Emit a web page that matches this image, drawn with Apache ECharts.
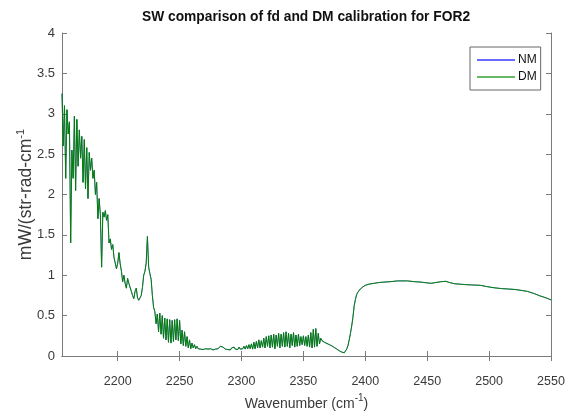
<!DOCTYPE html>
<html>
<head>
<meta charset="utf-8">
<script src="https://cdn.jsdelivr.net/npm/echarts@6/dist/echarts.min.js"></script>
<style>
html,body{margin:0;padding:0;background:#fff;}
#chart{width:581px;height:416px;}
</style>
</head>
<body>
<div id="chart"></div>
<script>
// Noisy part: sampled every 1 cm^-1 starting at 2155
const noisyStart = 2155;
const noisyStep = 1;
const dmNoisy = [
  3.25, 2.6, 3.1, 2.2, 3.05, 2.75, 2.9, 1.4, 2.55, 2.2,
  2.97, 2.05, 2.93, 2.35, 2.8, 2.45, 2.72, 2.15, 2.68, 2.07,
  2.58, 1.95, 2.52, 2.3, 2.45, 2.2, 2.3, 2.0, 2.15, 1.7,
  1.95, 1.75, 1.1, 1.78, 1.72, 1.8, 1.68, 1.75, 1.4, 1.45,
  1.32, 1.38, 1.22, 1.2, 1.08, 1.15,
  1.28, 1.14, 1.05, 0.92, 1.0, 0.9, 0.84, 0.96, 0.9, 0.88,
  0.8, 0.75, 0.71, 0.8, 0.84, 0.72, 0.69, 0.72, 0.75, 0.85,
  1.0, 1.05, 1.15, 1.48, 1.1, 1.02, 0.95, 0.75, 0.6, 0.55,
  0.4, 0.52, 0.3, 0.53, 0.27, 0.5, 0.22, 0.47, 0.2, 0.46,
  0.17, 0.45, 0.16, 0.44, 0.18, 0.45, 0.2, 0.46, 0.19, 0.44,
  0.15, 0.32, 0.13, 0.3, 0.12, 0.24, 0.1, 0.2, 0.09, 0.16,
  0.1, 0.14, 0.09, 0.12, 0.09, 0.1, 0.085, 0.09, 0.08,
  0.085, 0.09, 0.08, 0.085, 0.08, 0.09, 0.08, 0.075, 0.08, 0.085,
  0.08, 0.09, 0.1, 0.12, 0.13, 0.11, 0.09, 0.085, 0.1, 0.08,
  0.095, 0.075, 0.1, 0.08, 0.11, 0.085, 0.1, 0.08, 0.11, 0.085,
  0.1, 0.09, 0.12, 0.085, 0.13, 0.09, 0.14, 0.09, 0.15, 0.085,
  0.17, 0.09, 0.18, 0.1, 0.2, 0.1, 0.19, 0.11, 0.22, 0.1,
  0.24, 0.12, 0.25, 0.1, 0.26, 0.11, 0.27, 0.09, 0.26, 0.12,
  0.28, 0.1, 0.27, 0.12, 0.29, 0.11, 0.3, 0.12, 0.28, 0.1,
  0.27, 0.13, 0.29, 0.11, 0.26, 0.12, 0.27, 0.13, 0.24, 0.14,
  0.25, 0.13, 0.24, 0.12, 0.26, 0.11, 0.29, 0.1, 0.33, 0.11,
  0.34, 0.12, 0.28, 0.15, 0.22, 0.19, 0.18, 0.17, 0.16, 0.155,
  0.15, 0.14, 0.13, 0.125, 0.115, 0.105, 0.095, 0.085, 0.075, 0.065,
  0.055
];
// Smooth part
const smoothWn = [2381, 2382, 2383, 2384, 2385, 2386, 2387, 2388, 2389, 2390,
  2391, 2392, 2393, 2394, 2396, 2398, 2400, 2403, 2407, 2411,
  2415, 2420, 2426, 2434, 2440, 2445, 2450, 2453, 2457, 2461,
  2465, 2468, 2472, 2476, 2480, 2486, 2493, 2498, 2504, 2510,
  2515, 2520, 2525, 2531, 2536, 2541, 2546, 2550];
const dmSmooth = [0.048, 0.042, 0.04, 0.055, 0.085, 0.13, 0.2, 0.28, 0.37, 0.48,
  0.62, 0.7, 0.76, 0.79, 0.83, 0.855, 0.875, 0.89, 0.9, 0.91,
  0.915, 0.92, 0.93, 0.93, 0.92, 0.915, 0.905, 0.9, 0.91, 0.92,
  0.925, 0.91, 0.895, 0.89, 0.885, 0.88, 0.875, 0.86, 0.845, 0.835,
  0.83, 0.825, 0.815, 0.8, 0.775, 0.745, 0.72, 0.695];
// NM calibration lies under DM (identical at this scale)
const nmNoisy = dmNoisy;
const nmSmooth = dmSmooth;

const xTicks = [2200, 2250, 2300, 2350, 2400, 2450, 2500, 2550];
const yTicks = [0, 0.5, 1, 1.5, 2, 2.5, 3, 3.5, 4];
const xMin = 2155, xMax = 2550, yMin = 0, yMax = 4;

function buildPairs(noisy, smooth) {
  const out = [];
  noisy.forEach((v, i) => out.push([noisyStart + i * noisyStep, v]));
  smooth.forEach((v, i) => out.push([smoothWn[i], v]));
  return out;
}

const FONT = '"Liberation Sans", Arial, Helvetica, sans-serif';
const AXC = '#7a7a7a';
const LBL = '#3a3a3a';

const chart = echarts.init(document.getElementById('chart'), null, {renderer: 'canvas'});
chart.setOption({
  animation: false,
  backgroundColor: '#ffffff',
  grid: {left: 62, right: 30, top: 33, bottom: 54, containLabel: false},
  graphic: [{
    type: 'text', x: 306, y: 17, scaleX: 0.92, scaleY: 1,
    style: {text: 'SW comparison of fd and DM calibration for FOR2', font: 'bold 15px ' + FONT,
      fill: '#111', textAlign: 'center', textVerticalAlign: 'middle'}
  }],
  legend: {
    orient: 'vertical', left: 470, top: 47,
    backgroundColor: '#fff', borderColor: '#666', borderWidth: 1, borderRadius: 0,
    padding: [7, 4, 7, 7], itemGap: 5, itemWidth: 38, itemHeight: 2,
    icon: 'rect',
    textStyle: {fontFamily: FONT, fontSize: 12, color: '#111', padding: [0, 0, 0, -2]},
    data: [
      {name: 'NM', itemStyle: {color: '#6a6aff'}},
      {name: 'DM', itemStyle: {color: '#66b866'}}
    ]
  },
  xAxis: [{
    type: 'value', min: xMin, max: xMax, position: 'bottom',
    axisLine: {show: true, lineStyle: {color: AXC, width: 1}},
    axisTick: {show: true, inside: true, length: 5, lineStyle: {color: AXC}, customValues: xTicks},
    axisLabel: {show: true, margin: 19, color: LBL, fontFamily: FONT, fontSize: 12.5, customValues: xTicks,
      formatter: v => String(v)},
    splitLine: {show: false},
    name: '{m|Wavenumber (cm}{s|-1}{m|)}',
    nameLocation: 'middle', nameGap: 37, nameMoveOverlap: false,
    nameTextStyle: {rich: {
      m: {fontFamily: FONT, fontSize: 14, color: LBL, lineHeight: 18, verticalAlign: 'bottom'},
      s: {fontFamily: FONT, fontSize: 10, color: LBL, lineHeight: 18, verticalAlign: 'top'}
    }}
  }, {
    type: 'value', min: xMin, max: xMax, position: 'top',
    axisLine: {show: true, lineStyle: {color: AXC, width: 1}},
    axisTick: {show: true, inside: true, length: 5, lineStyle: {color: AXC}, customValues: xTicks},
    axisLabel: {show: false},
    splitLine: {show: false}
  }],
  yAxis: [{
    type: 'value', min: yMin, max: yMax, position: 'left',
    axisLine: {show: true, lineStyle: {color: AXC, width: 1}},
    axisTick: {show: true, inside: true, length: 5, lineStyle: {color: AXC}, customValues: yTicks},
    axisLabel: {show: true, margin: 7, color: LBL, fontFamily: FONT, fontSize: 13, customValues: yTicks,
      formatter: v => String(v)},
    splitLine: {show: false},
    name: '{m|mW/(str-rad-cm}{s|-1}',
    nameLocation: 'middle', nameGap: 27, nameRotate: 90, nameMoveOverlap: false,
    nameTextStyle: {rich: {
      m: {fontFamily: FONT, fontSize: 17.5, color: LBL, lineHeight: 20, verticalAlign: 'bottom'},
      s: {fontFamily: FONT, fontSize: 11, color: LBL, lineHeight: 20, verticalAlign: 'top'}
    }}
  }, {
    type: 'value', min: yMin, max: yMax, position: 'right',
    axisLine: {show: true, lineStyle: {color: AXC, width: 1}},
    axisTick: {show: true, inside: true, length: 5, lineStyle: {color: AXC}, customValues: yTicks},
    axisLabel: {show: false},
    splitLine: {show: false}
  }],
  series: [{
    name: 'NM', type: 'line', xAxisIndex: 0, yAxisIndex: 0,
    data: buildPairs(nmNoisy, nmSmooth), showSymbol: false, symbol: 'none',
    lineStyle: {color: '#0000ff', width: 0.5}, itemStyle: {color: '#0000ff'}
  }, {
    name: 'DM', type: 'line', xAxisIndex: 0, yAxisIndex: 0,
    data: buildPairs(dmNoisy, dmSmooth), showSymbol: false, symbol: 'none',
    lineStyle: {color: '#008000', width: 1}, itemStyle: {color: '#008000'}
  }]
});
</script>
</body>
</html>
